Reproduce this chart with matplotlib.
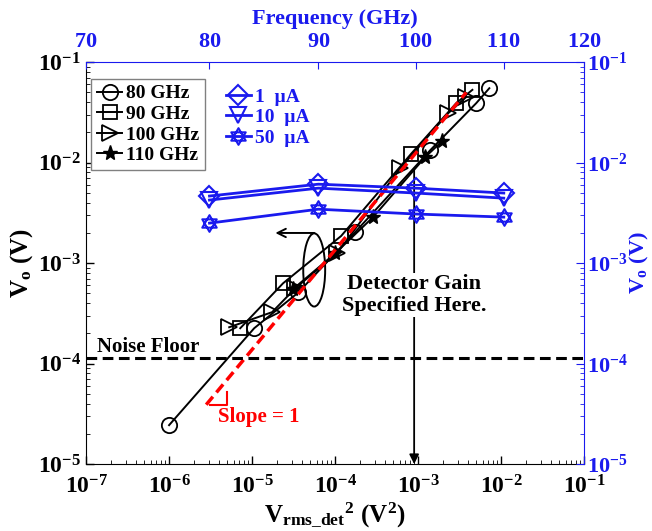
import numpy as np
import matplotlib
matplotlib.use('Agg')
import matplotlib.pyplot as plt
import matplotlib.ticker as mt
from matplotlib.patches import Ellipse
from matplotlib.path import Path

# detector output vs input power (bottom / left axes)
circ_x = [1.0e-6, 1.06e-5, 3.6e-5, 1.74e-4, 1.4e-3, 5.0e-3, 7.2e-3]
circ_y = [2.44e-5, 2.25e-4, 5.1e-4, 2.03e-3, 1.33e-2, 3.9e-2, 5.5e-2]
sq_x = [7.2e-6, 2.36e-5, 1.18e-4, 8.2e-4, 2.87e-3, 4.5e-3]
sq_y = [2.25e-4, 6.3e-4, 1.86e-3, 1.22e-2, 3.9e-2, 5.3e-2]
tri_x = [5.3e-6, 1.74e-5, 3.3e-5, 1.06e-4, 6.1e-4, 2.3e-3, 3.8e-3]
tri_y = [2.3e-4, 3.25e-4, 5.6e-4, 1.26e-3, 8.8e-3, 3.1e-2, 4.5e-2]
star_x = [3.1e-5, 1.0e-4, 2.87e-4, 1.21e-3, 1.95e-3]
star_y = [5.5e-4, 1.25e-3, 2.87e-3, 1.13e-2, 1.64e-2]

slope_x = [2.8e-6, 3.8e-3]
slope_y = [3.9e-5, 5.0e-2]
noise_floor = 1.13e-4
gain_x = 8.95e-4

# output vs frequency for bias currents (top / right axes)
freq = [80, 90, 100, 110]
v_1ua = [4.65e-3, 6.1e-3, 5.57e-3, 4.98e-3]
v_10ua = [4.24e-3, 5.57e-3, 4.98e-3, 4.43e-3]
v_50ua = [2.5e-3, 3.44e-3, 3.08e-3, 2.87e-3]
freq_ticks = [70, 80, 90, 100, 110, 120]

plt.rcParams.update({
    'font.family': 'Liberation Serif',
    'font.weight': 'bold',
    'axes.labelweight': 'bold',
    'mathtext.fontset': 'custom',
    'mathtext.rm': 'Liberation Serif:bold',
    'mathtext.it': 'Liberation Serif:bold',
    'mathtext.bf': 'Liberation Serif:bold',
    'mathtext.default': 'bf',
    'xtick.direction': 'in',
    'ytick.direction': 'in',
})

blue = '#1a1aee'
pow_fmt = mt.FuncFormatter(lambda v, p: r'$10^{%d}$' % round(np.log10(v)))

fig = plt.figure(figsize=(6.52, 5.31), dpi=100)
ax = fig.add_axes([0.132, 0.126, 0.764, 0.757])
ax.set_xscale('log')
ax.set_yscale('log')
ax.set_xlim(1e-7, 1e-1)
ax.set_ylim(1e-5, 1e-1)

kw = dict(color='k', lw=1.4, mfc='none', mew=1.3)
ax.plot(circ_x, circ_y, marker='o', ms=11, label='80 GHz', **kw)
ax.plot(sq_x, sq_y, marker='s', ms=10, label='90 GHz', **kw)
ax.plot(tri_x, tri_y, marker='>', ms=11, label='100 GHz', **kw)
ax.plot(star_x, star_y, marker='*', ms=11, color='k', lw=1.4, label='110 GHz')

ax.plot(slope_x, slope_y, color='red', lw=2.5, ls=(0, (3, 1.6)))
ax.plot([3.1e-6, 5.0e-6, 5.0e-6], [3.86e-5, 3.86e-5, 5.2e-5], color='red', lw=1.5)
ax.text(3.9e-6, 2.94e-5, 'Slope = 1', color='red', fontsize=15, va='center')

ax.axhline(noise_floor, color='k', lw=2.2, ls=(0, (3.5, 1.8)))
ax.text(1.36e-7, 1.46e-4, 'Noise Floor', fontsize=15, va='center')

ax.annotate('', xy=(gain_x, 1e-5), xytext=(gain_x, 8.4e-3),
            arrowprops=dict(arrowstyle='-|>', color='k', lw=1.3, mutation_scale=14,
                            shrinkA=0, shrinkB=0))
ax.text(gain_x, 4.8e-4, 'Detector Gain\nSpecified Here.', fontsize=16, ha='center',
        va='center', linespacing=1.1, zorder=6,
        bbox=dict(fc='white', ec='none', pad=1))

ax.add_patch(Ellipse((0.458, 0.483), 0.044, 0.182, transform=ax.transAxes,
                     fill=False, ec='k', lw=1.4))
ax.annotate('', xy=(0.380, 0.575), xytext=(0.458, 0.575), xycoords='axes fraction',
            arrowprops=dict(arrowstyle='->', color='k', lw=1.4, mutation_scale=15,
                            shrinkA=0, shrinkB=0))

ax.xaxis.set_major_formatter(pow_fmt)
ax.yaxis.set_major_formatter(pow_fmt)
ax.tick_params(labelsize=17, length=6, width=1)
ax.tick_params(axis='x', pad=8)
ax.tick_params(which='minor', length=3)
ax.spines['top'].set_visible(False)
ax.spines['right'].set_visible(False)
ax.set_xlabel(r'${V_{rms\_det}}^{2}\ (V^{2})$', fontsize=18, labelpad=1)
ax.set_ylabel(r'$V_{o}\ (V)$', fontsize=18, labelpad=2)

ax.legend(loc='upper left', bbox_to_anchor=(0.01, 0.958), fontsize=14, fancybox=False,
          edgecolor='gray', framealpha=1, handlelength=1.3, handletextpad=0.2,
          labelspacing=0.15, borderpad=0.3, borderaxespad=0)

# second axes: frequency sweep
ax2 = fig.add_axes(ax.get_position(), facecolor='none')
ax2.set_xscale('log')
ax2.set_yscale('log')
ax2.set_xlim(70, 120)
ax2.set_ylim(1e-5, 1e-1)
ax2.xaxis.tick_top()
ax2.xaxis.set_label_position('top')
ax2.yaxis.tick_right()
ax2.yaxis.set_label_position('right')
ax2.set_xticks(freq_ticks)
ax2.xaxis.set_major_formatter(mt.FuncFormatter(lambda v, p: r'$%d$' % round(v)))
ax2.xaxis.set_minor_locator(mt.NullLocator())
ax2.yaxis.set_major_formatter(pow_fmt)
ax2.tick_params(which='both', colors=blue)
ax2.tick_params(axis='y', labelsize=16, length=6, pad=2)
ax2.tick_params(axis='y', which='minor', length=3)
ax2.tick_params(axis='x', labelsize=16, length=5, pad=7)
for s in ['left', 'bottom']:
    ax2.spines[s].set_visible(False)
for s in ['top', 'right']:
    ax2.spines[s].set_color(blue)
ax2.set_xlabel('Frequency (GHz)', color=blue, fontsize=16, labelpad=6)
ax2.set_ylabel(r'$V_{o}\ (V)$', color=blue, fontsize=16, labelpad=0)

hexagram = Path([(0, 1), (-0.866, -0.5), (0.866, -0.5), (0, 1),
                 (0, -1), (0.866, 0.5), (-0.866, 0.5), (0, -1)],
                [Path.MOVETO, Path.LINETO, Path.LINETO, Path.CLOSEPOLY] * 2)

bkw = dict(color=blue, lw=2, mfc='none', mew=1.5)
h1, = ax2.plot(freq, v_1ua, marker='D', ms=10, **bkw)
h2, = ax2.plot(freq, v_10ua, marker='v', ms=11, **bkw)
h3, = ax2.plot(freq, v_50ua, marker=hexagram, ms=12, **bkw)

ax2.legend([h1, h2, h3], ['1  \u00b5A', '10  \u00b5A', '50  \u00b5A'], loc='upper left',
           bbox_to_anchor=(0.265, 0.955), fontsize=14, frameon=False, labelcolor=blue,
           handlelength=1.3, handletextpad=0.2, labelspacing=0.15, borderaxespad=0)

fig.savefig('out.png', dpi=100)
